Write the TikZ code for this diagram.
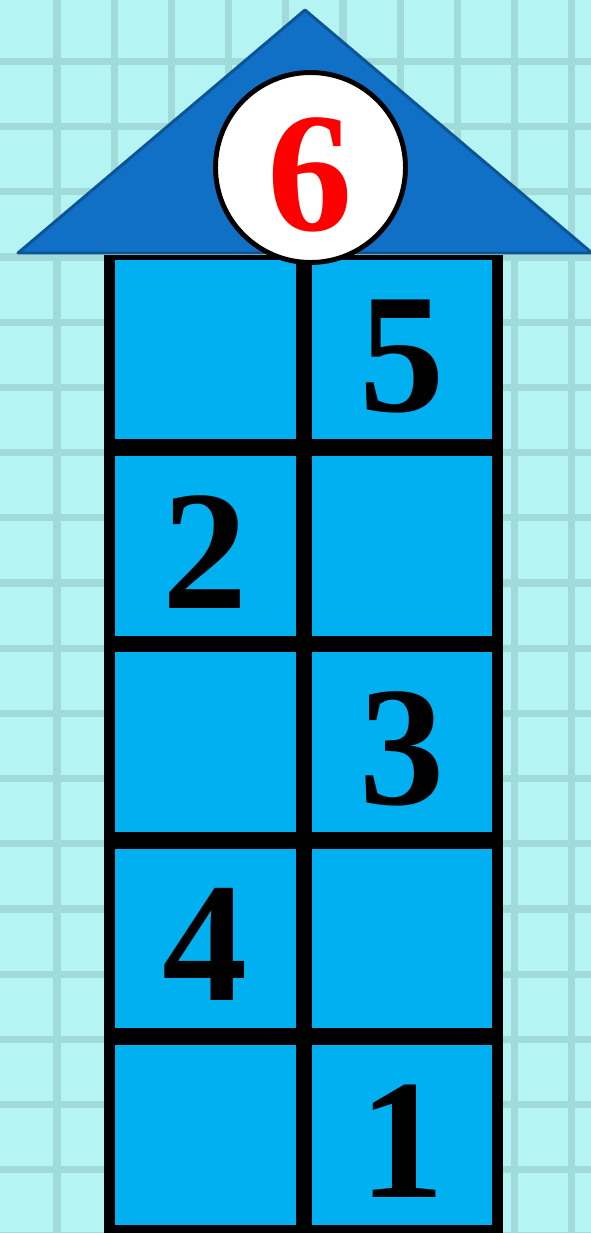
\documentclass[tikz,border=0pt]{standalone}
\usepackage{fontspec}
\setmainfont{Liberation Serif}
\definecolor{hpsky}{RGB}{180,245,243}
\definecolor{hpgrid}{RGB}{160,218,217}
\definecolor{hproof}{RGB}{16,112,198}
\definecolor{hpedge}{RGB}{12,84,150}
\definecolor{hpcell}{RGB}{0,176,240}
\usetikzlibrary{positioning}

\begin{document}
\begin{tikzpicture}[x=0.02cm, y=-0.02cm,
    cell/.style={fill=hpcell, inner sep=0pt, minimum width=3.62cm, minimum height=3.6cm,
      text height=2.49cm, text depth=0pt,
      font=\fontsize{97}{97}\selectfont\bfseries, text=black},
    gridline/.style={draw=hpgrid, line width=4pt}]
  \useasboundingbox (0,0) rectangle (591,1233);

  %% Background paper
  \fill[hpsky] (0,0) rectangle (591,1233);
  \foreach \gx in {0,...,9}
    \draw[gridline] ({57+57.2*\gx},0) -- ({57+57.2*\gx},1233);
  \foreach \gy in {-3,...,15}
    \draw[gridline] (0,{257+65.2*\gy}) -- (591,{257+65.2*\gy});

  %% Tower frame
  \fill[black] (104,255) rectangle (503,1233);

  %% Squares, top to bottom
  \node[cell] (sq1l) at (205.5,349.5) {};
  \node[cell] (sq1r) at (402,349.5)   {5};
  \node[cell] (sq2l) at (205.5,546)   {2};
  \node[cell] (sq2r) at (402,546)     {};
  \node[cell] (sq3l) at (205.5,742)   {};
  \node[cell] (sq3r) at (402,742)     {3};
  \node[cell] (sq4l) at (205.5,938.5) {4};
  \node[cell] (sq4r) at (402,938.5)   {};
  \node[cell] (sq5l) at (205.5,1135)  {};
  \node[cell] (sq5r) at (402,1135)    {1};

  %% Roof
  \filldraw[fill=hproof, draw=hpedge, line width=1.7pt, line join=round]
    (18,253) -- (305,10) -- (592,253) -- cycle;

  %% Top circle
  \node[circle, draw=black, fill=white, line width=2.8pt, minimum size=3.8cm, inner sep=0pt,
    text height=2.51cm, text depth=0pt,
    font=\fontsize{97}{97}\selectfont\bfseries, text=red] (home) at (310.5,167.5) {6};
\end{tikzpicture}
\end{document}
